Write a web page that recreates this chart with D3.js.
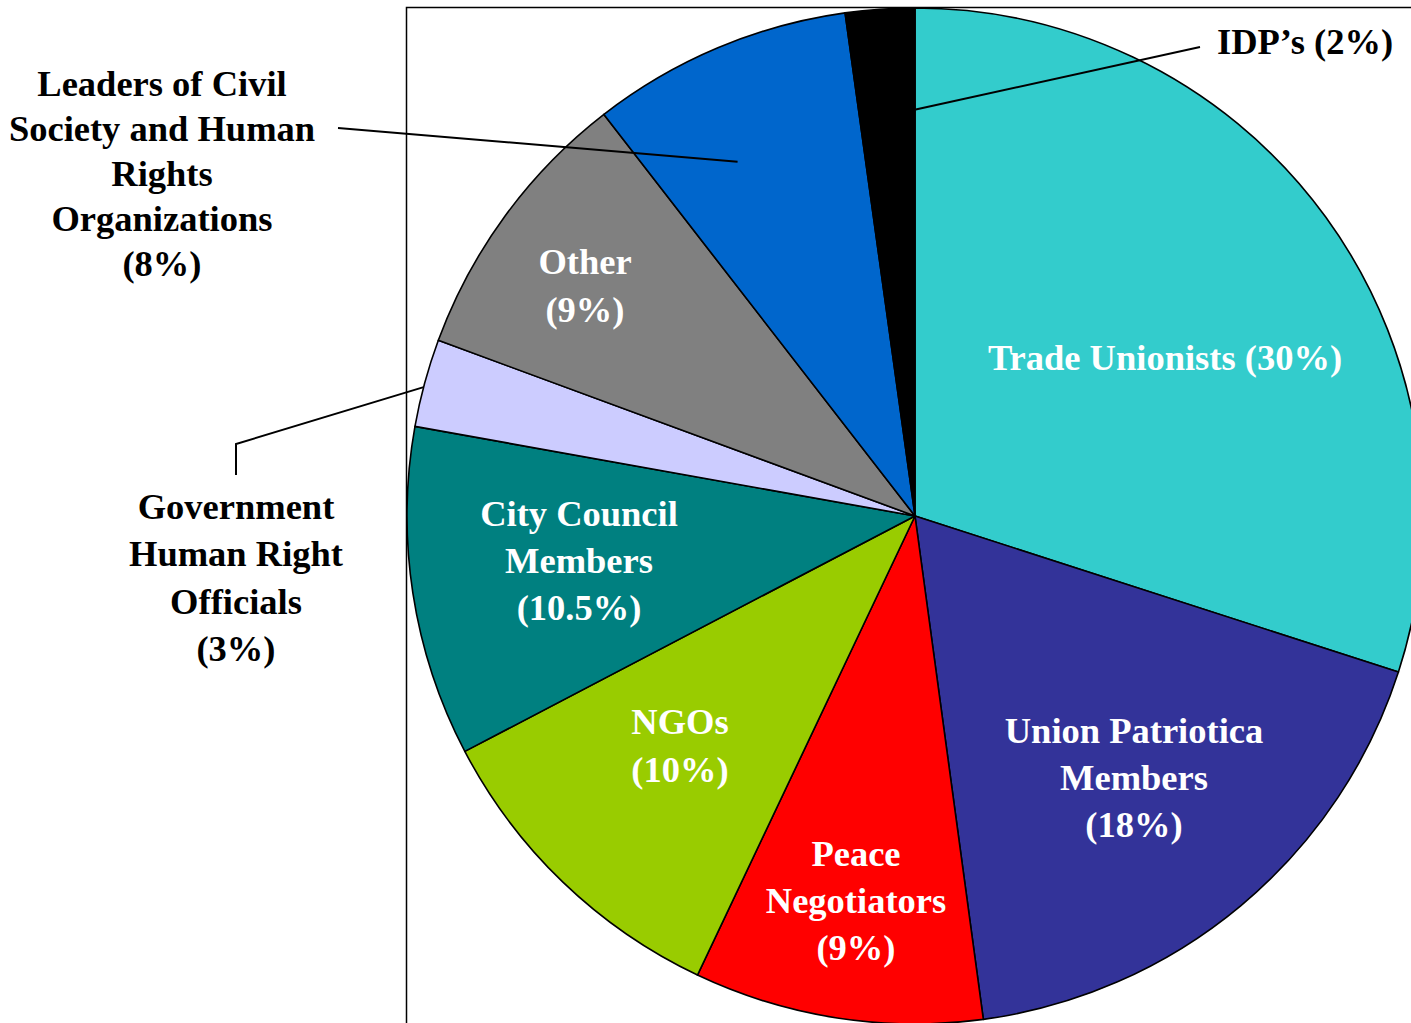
<!DOCTYPE html>
<html>
<head>
<meta charset="utf-8">
<script src="https://cdn.jsdelivr.net/npm/d3@7"></script>
<style>
html,body{margin:0;padding:0;background:#fff;}
svg{display:block;}
text{font-family:"Liberation Serif","Times New Roman",serif;font-weight:bold;}
</style>
</head>
<body>
<svg id="chart" width="1411" height="1023"></svg>
<script>
// ---- data ----
const categories = ["Trade Unionists","Union Patriotica Members","Peace Negotiators","NGOs","City Council Members","Government Human Right Officials","Other","Leaders of Civil Society and Human Rights Organizations","IDP\u2019s"];
// slice sizes
const values = [30, 17.9, 9.2, 10.3, 10.5, 2.8, 8.9, 8.3, 2.2];
const percentLabels = ["30%","18%","9%","10%","10.5%","3%","9%","8%","2%"];
const colors = ["#33CCCC","#333399","#FF0000","#99CC00","#008080","#CCCCFF","#808080","#0066CC","#000000"];

const labelLines = [
  ["Trade Unionists (30%)"],
  ["Union Patriotica","Members","(18%)"],
  ["Peace","Negotiators","(9%)"],
  ["NGOs","(10%)"],
  ["City Council","Members","(10.5%)"],
  ["Government","Human Right","Officials","(3%)"],
  ["Other","(9%)"],
  ["Leaders of Civil","Society and Human","Rights","Organizations","(8%)"],
  ["IDP\u2019s (2%)"]
];

// ---- layout ----
const W = 1411, H = 1023;
const cx = 915, cy = 516, R = 508;
const fontSize = 36.5;
const labelLayout = [
  {x:1165, y:357, lh:47, color:"#fff", anchor:"middle"},
  {x:1134, y:730, lh:47, color:"#fff", anchor:"middle"},
  {x:856,  y:853, lh:47, color:"#fff", anchor:"middle"},
  {x:680,  y:721, lh:48, color:"#fff", anchor:"middle"},
  {x:579,  y:513, lh:47, color:"#fff", anchor:"middle"},
  {x:236,  y:506, lh:47.5, color:"#000", anchor:"middle"},
  {x:585,  y:261, lh:48, color:"#fff", anchor:"middle"},
  {x:162,  y:83,  lh:45, color:"#000", anchor:"middle"},
  {x:1217, y:41,  lh:45, color:"#000", anchor:"start"}
];
// leader lines: anchor given as [angle in degrees clockwise from top, radius fraction], then label-side points
const leaders = [
  {slice:8, a:0.1,   r:0.80, pts:[[1200,47]]},
  {slice:7, a:333.4, r:0.78, pts:[[338,128]]},
  {slice:5, a:284.7, r:1.0, pts:[[236,444],[236,475]]}
];

const svg = d3.select("#chart");

// frame
svg.append("path")
  .attr("d", `M406.5,${H} L406.5,7.5 L${W},7.5`)
  .attr("fill","none").attr("stroke","#000").attr("stroke-width",1.5);

const pie = d3.pie().sort(null).value(d => d)
  .startAngle(0).endAngle(2*Math.PI);
const arcs = pie(values);
const arc = d3.arc().innerRadius(0).outerRadius(R);

const g = svg.append("g").attr("transform",`translate(${cx},${cy})`);
g.selectAll("path.slice").data(arcs).enter().append("path")
  .attr("class","slice")
  .attr("d", arc)
  .attr("fill", (d,i) => colors[i])
  .attr("stroke","#000").attr("stroke-width",1.6).attr("stroke-linejoin","round");

// leader lines
leaders.forEach(L => {
  const ang = L.a * Math.PI / 180;
  const x0 = cx + Math.sin(ang)*R*L.r, y0 = cy - Math.cos(ang)*R*L.r;
  const pts = [[x0,y0]].concat(L.pts);
  svg.append("path").attr("d", d3.line()(pts))
    .attr("fill","none").attr("stroke","#000").attr("stroke-width",2);
});

// labels
labelLines.forEach((lines,i) => {
  const L = labelLayout[i];
  const t = svg.append("text")
    .attr("text-anchor", L.anchor)
    .attr("fill", L.color)
    .attr("font-size", fontSize);
  lines.forEach((s,j) => {
    t.append("tspan").attr("x", L.x).attr("y", L.y + j*L.lh)
      .attr("dy","0.35em").text(s);
  });
});
</script>
</body>
</html>
